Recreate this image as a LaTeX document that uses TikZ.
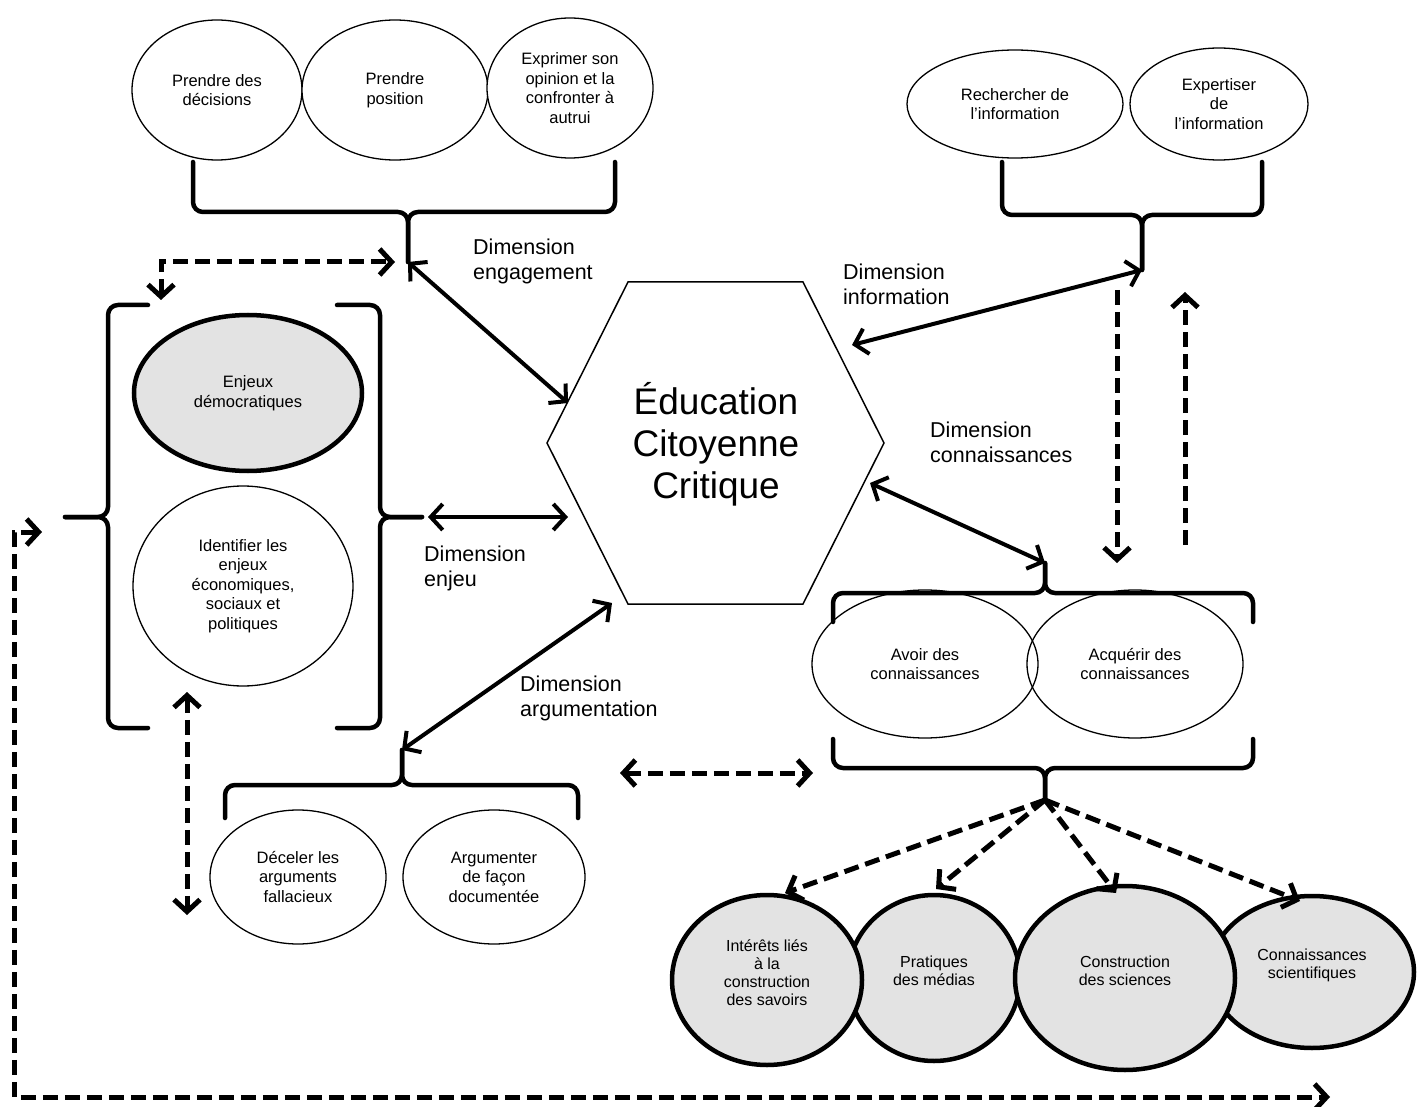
\documentclass[tikz,border=0pt]{standalone}
\usepackage{fontspec}
\setmainfont{Liberation Sans}
\usetikzlibrary{shapes.geometric,arrows.meta}
\definecolor{ellgray}{RGB}{227,227,227}
\tikzset{
  >={Straight Barb[length=12pt,width=26pt]},
  ell/.style={ellipse, draw, line width=1.3pt, fill=white, inner sep=0pt, align=center,
    font=\fontsize{16.5}{19.5}\selectfont},
  boldell/.style={ell, line width=4.5pt, fill=ellgray},
  boldtxt/.style={align=center, inner sep=0pt, yshift=7pt, font=\fontsize{16}{18}\selectfont},
  dimlabel/.style={anchor=north west, inner sep=0pt, align=left, font=\fontsize{21.5}{24.5}\selectfont},
  brace/.style={line width=4.5pt, rounded corners=10pt, line cap=round},
  link/.style={line width=4pt, <->},
  dlink/.style={line width=5pt, dash pattern=on 15pt off 7pt}
}
\begin{document}
\begin{tikzpicture}[x=1pt,y=-1pt]
\useasboundingbox (0,0) rectangle (1417,1107);
% engagement
\node[ell, minimum width=170, minimum height=140] (decide) at (217,90) {Prendre des\\décisions};
\node[ell, minimum width=186, minimum height=140] (position) at (395,90) {Prendre\\position};
\node[ell, minimum width=166, minimum height=140] (opinion) at (570,88) {Exprimer son\\opinion et la\\confronter à\\autrui};
\coordinate (engtip) at (408,262);
\draw[brace] (193,162) |- (engtip |- 0,212) -- (engtip);
\draw[brace] (615,162) |- (engtip |- 0,212) -- (engtip);
% information
\node[ell, minimum width=216, minimum height=108] (search) at (1015,104) {Rechercher de\\l’information};
\node[ell, minimum width=178, minimum height=112] (expert) at (1219,104) {Expertiser\\de\\l’information};
\coordinate (inftip) at (1142,270);
\draw[brace] (1002,162) |- (inftip |- 0,215) -- (inftip);
\draw[brace] (1262,162) |- (inftip |- 0,215) -- (inftip);
% enjeux
\node[boldell, minimum width=228, minimum height=156] (democ) at (248,393) {Enjeux\\démocratiques};
\node[ell, minimum width=220, minimum height=200] (identify) at (243,586) {Identifier les\\enjeux\\économiques,\\sociaux et\\politiques};
\coordinate (enjL) at (65,517);
\coordinate (enjR) at (422,517);
\draw[brace] (148,305) -| (108,517) -- (enjL);
\draw[brace] (148,728) -| (108,517) -- (enjL);
\draw[brace] (337,305) -| (380,517) -- (enjR);
\draw[brace] (337,728) -| (380,517) -- (enjR);
% argumentation
\node[ell, minimum width=176, minimum height=134] (detect) at (298,877) {Déceler les\\arguments\\fallacieux};
\node[ell, minimum width=182, minimum height=134] (argue) at (494,877) {Argumenter\\de façon\\documentée};
\coordinate (argtip) at (402,750);
\draw[brace] (225,818) |- (argtip |- 0,785) -- (argtip);
\draw[brace] (578,818) |- (argtip |- 0,785) -- (argtip);
% connaissances
\node[ell, fill=none, minimum width=226, minimum height=148] (have) at (925,664) {Avoir des\\connaissances};
\node[ell, fill=none, minimum width=216, minimum height=148] (acquire) at (1135,664) {Acquérir des\\connaissances};
\coordinate (contip) at (1045,563);
\coordinate (savtip) at (1045,800);
\draw[brace] (833,622) |- (contip |- 0,593) -- (contip);
\draw[brace] (1253,622) |- (contip |- 0,593) -- (contip);
\draw[brace] (833,739) |- (savtip |- 0,768) -- (savtip);
\draw[brace] (1253,739) |- (savtip |- 0,768) -- (savtip);
\node[boldell, minimum width=172, minimum height=166, label={[boldtxt]center:Pratiques\\des médias}] (media) at (934,978) {};
\node[boldell, minimum width=204, minimum height=152, label={[boldtxt]center:Connaissances\\scientifiques}] (scient) at (1312,972) {};
\node[boldell, minimum width=190, minimum height=170, label={[boldtxt]center:Intérêts liés\\à la\\construction\\des savoirs}] (interest) at (767,980) {};
\node[boldell, minimum width=220, minimum height=184, label={[boldtxt]center:Construction\\des sciences}] (constr) at (1125,978) {};
% centre
\coordinate (h1) at (628,282);
\coordinate (h2) at (803,282);
\coordinate (h3) at (884,443);
\coordinate (h4) at (803,604);
\coordinate (h5) at (628,604);
\coordinate (h6) at (547,443);
\draw[line width=1.5pt] (h1) -- (h2) -- (h3) -- (h4) -- (h5) -- (h6) -- cycle;
\node[align=center, font=\fontsize{37}{42}\selectfont] (ecc) at (716,444) {Éducation\\Citoyenne\\Critique};
\coordinate (hexeng) at (568,403);
\coordinate (hexenj) at (568,517);
\coordinate (hexarg) at (612,603);
\coordinate (hexinf) at (852,345);
\coordinate (hexcon) at (870,483);
\coordinate (enjtip) at (428,517);
\draw[link] (engtip) -- (hexeng);
\draw[link] (enjtip) -- (hexenj);
\draw[link] (argtip) -- (hexarg);
\draw[link] (inftip) -- (hexinf);
\draw[link] (contip) -- (hexcon);
\node[dimlabel] (dimeng) at (473,239) {Dimension\\engagement};
\node[dimlabel] (diminf) at (843,264) {Dimension\\information};
\node[dimlabel] (dimcon) at (930,422) {Dimension\\connaissances};
\node[dimlabel] (dimenj) at (424,546) {Dimension\\enjeu};
\node[dimlabel] (dimarg) at (520,676) {Dimension\\argumentation};
% liens en pointilles
\coordinate (dl1) at (161,300);
\coordinate (dl2) at (161,262);
\coordinate (dl3) at (395,262);
\coordinate (dv1) at (187,692);
\coordinate (dv2) at (187,915);
\coordinate (db1) at (42,532);
\coordinate (db2) at (14,532);
\coordinate (db3) at (14,1097);
\coordinate (db4) at (1330,1097);
\coordinate (dm1) at (620,773);
\coordinate (dm2) at (813,773);
\coordinate (di1) at (1117,290);
\coordinate (di2) at (1117,563);
\coordinate (du1) at (1185,545);
\coordinate (du2) at (1185,292);
\draw[dlink, <->] (dl1) -- (dl2) -- (dl3);
\draw[dlink, <->] (dv1) -- (dv2);
\draw[dlink, <->] (db1) -- (db2) -- (db3) -- (db4);
\draw[dlink, <->] (dm1) -- (dm2);
\draw[dlink, ->] (di1) -- (di2);
\draw[dlink, ->] (du1) -- (du2);
\coordinate (f1) at (785,893);
\coordinate (f2) at (936,889);
\coordinate (f3) at (1116,893);
\coordinate (f4) at (1300,901);
\draw[dlink, ->] (savtip) -- (f1);
\draw[dlink, ->] (savtip) -- (f2);
\draw[dlink, ->] (savtip) -- (f3);
\draw[dlink, ->] (savtip) -- (f4);
\end{tikzpicture}
\end{document}
